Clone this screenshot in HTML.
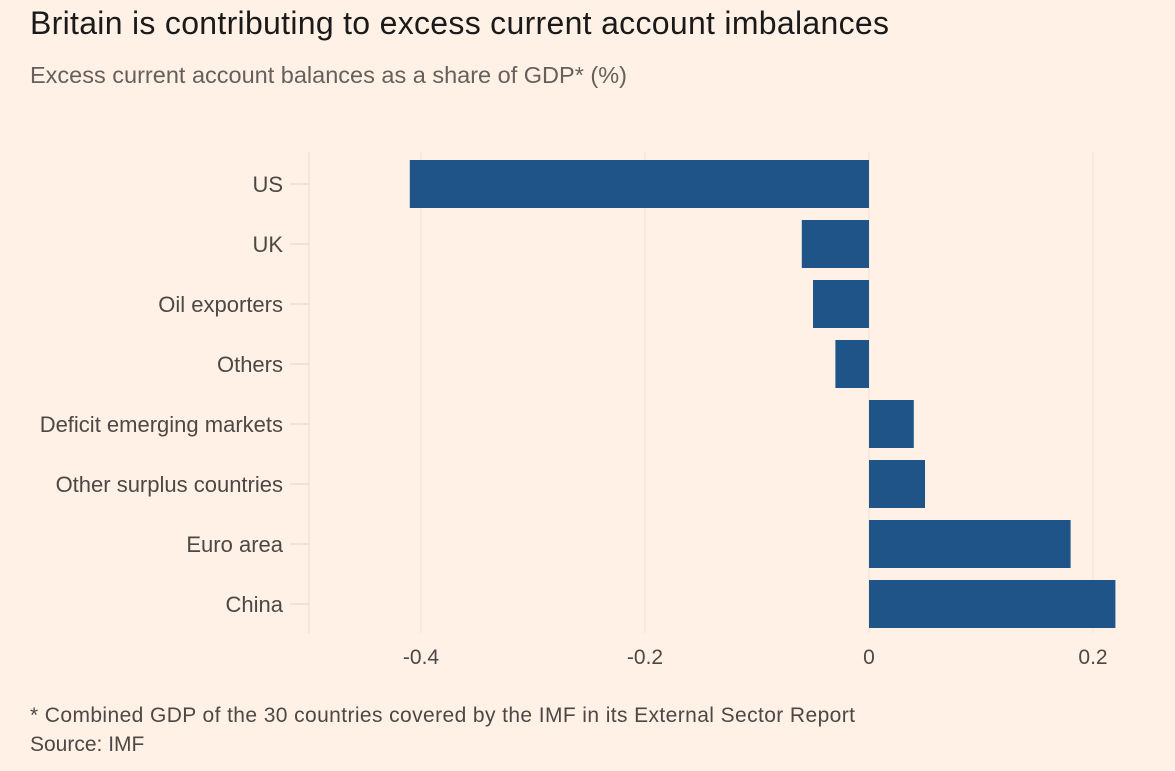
<!DOCTYPE html>
<html><head><meta charset="utf-8"><style>
body{margin:0;background:#fff1e5;font-family:"Liberation Sans",sans-serif;}
#wrap{position:relative;width:1175px;height:771px;overflow:hidden;background:#fff1e5;}
.t{position:absolute;white-space:nowrap;}
</style></head><body>
<div id="wrap">
<div class="t" style="left:30px;top:5px;font-size:32px;letter-spacing:0.3px;color:#1a1a1a;">Britain is contributing to excess current account imbalances</div>
<div class="t" style="left:30px;top:62px;font-size:23.5px;color:#66605c;">Excess current account balances as a share of GDP* (%)</div>
<svg id="chart" width="1175" height="771" style="position:absolute;left:0;top:0"></svg>
<div class="t" style="left:30px;top:704px;font-size:21px;letter-spacing:0.4px;color:#4d4845;">* Combined GDP of the 30 countries covered by the IMF in its External Sector Report</div>
<div class="t" style="left:30px;top:733px;font-size:21px;color:#4d4845;">Source: IMF</div>
</div>
<script>
const categories=["US","UK","Oil exporters","Others","Deficit emerging markets","Other surplus countries","Euro area","China"];
const values=[-0.41,-0.06,-0.05,-0.03,0.04,0.05,0.18,0.22];
const ticks=[-0.4,-0.2,0,0.2];
const tickLabels=["-0.4","-0.2","0","0.2"];
const NS="http://www.w3.org/2000/svg";
const svg=document.getElementById('chart');
const x=v=>869+v*1120;
const y0=160,step=60,bh=48;
function mk(t,a){const e=document.createElementNS(NS,t);for(const k in a)e.setAttribute(k,a[k]);svg.appendChild(e);return e;}
ticks.forEach((t,i)=>{
 const g=mk('line',{x1:x(t),x2:x(t),y1:152,y2:633,stroke:'#f5e6da','stroke-width':1.5});
 
 
 const l=mk('text',{x:x(t),y:664,'text-anchor':'middle','font-size':21,fill:'#4d4845','font-family':'Liberation Sans, sans-serif'});
 l.textContent=tickLabels[i];
 
 
});
const ax=mk('line',{x1:309,x2:309,y1:152,y2:633,stroke:'#f0e2d6','stroke-width':1.5});


categories.forEach((c,i)=>{
 const cy=y0+i*step+bh/2;
 const tk=mk('line',{x1:290,x2:309,y1:cy,y2:cy,stroke:'#eadccf','stroke-width':1.5});
 
 
 const l=mk('text',{x:283,y:cy+8,'text-anchor':'end','font-size':22,fill:'#4d4845','font-family':'Liberation Sans, sans-serif'});
 l.textContent=c;
 
 
 const v=values[i];
 const b=mk('rect',{x:Math.min(x(0),x(v)),y:y0+i*step,width:Math.abs(x(v)-x(0)),height:bh,fill:'#1f5488'});
 
 
});
</script>
</body></html>
